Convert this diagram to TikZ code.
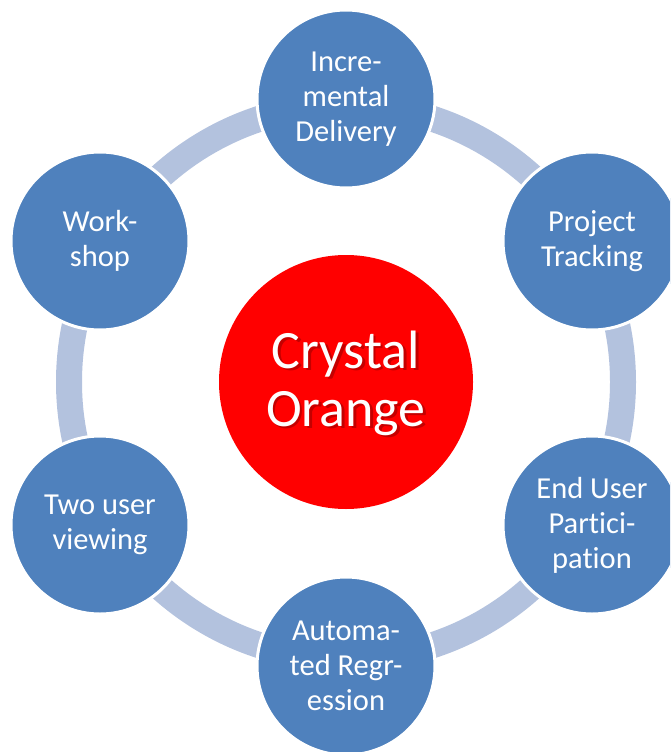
\documentclass[tikz,border=0pt]{standalone}
\usepackage{fontspec}
\setmainfont[Ligatures={NoCommon}]{Carlito}
\definecolor{nodeblue}{HTML}{4F81BD}
\definecolor{ringblue}{HTML}{B3C2DE}
\definecolor{hubred}{HTML}{FF0000}
\definecolor{shadowred}{HTML}{8A0000}
\begin{document}
\begin{tikzpicture}[x=1pt,y=-1pt,
  outer/.style={circle,fill=nodeblue,draw=white,line width=3pt,minimum size=178pt,inner sep=0pt,
    text=white,font=\fontsize{30.5}{35}\selectfont,align=center},
  hub/.style={circle,fill=hubred,minimum size=254pt,inner sep=0pt},
  hubtext/.style={text=white,font=\fontsize{54}{58}\selectfont,align=center},
  ring/.style={draw=ringblue,line width=26pt}]
\useasboundingbox (0,0) rectangle (670,752);
\clip (0,0) rectangle (670,752);
\coordinate (c) at (346,382);
\draw[ring] (c) circle[radius=277];
\node[hub] (hub) at (c) {};
\node[hubtext,text=shadowred,opacity=0.5] (hubshadow) at (348.5,385.5) {Crystal\\Orange};
\node[hubtext] (hublabel) at (346,383) {Crystal\\Orange};
\node[outer] (inc) at (346,99) {Incre-\\mental\\Delivery};
\node[outer] (pt) at (592,241) {Project\\Tracking};
\node[outer] (eup) at (592,525) {End User\\Partici-\\pation};
\node[outer] (ar) at (346,666) {Automa-\\ted Regr-\\ession};
\node[outer] (tuv) at (100,525) {Two user\\viewing};
\node[outer] (ws) at (100,241) {Work-\\shop};
\end{tikzpicture}
\end{document}
